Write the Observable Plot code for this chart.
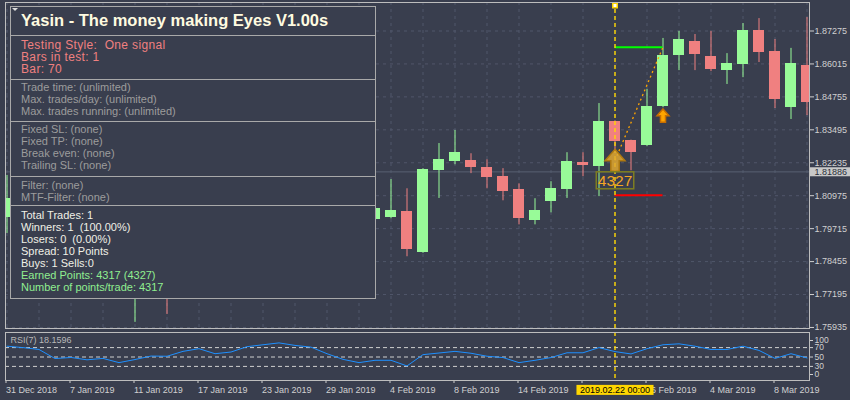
<!DOCTYPE html>
<html><head><meta charset="utf-8">
<script src="https://cdn.jsdelivr.net/npm/d3@7"></script>
<script src="https://cdn.jsdelivr.net/npm/@observablehq/plot@0.6"></script>
<style>
html,body{margin:0;padding:0;background:#393e4e;}
#wrap{position:relative;width:850px;height:400px;overflow:hidden;background:#393e4e;font-family:"Liberation Sans",Arial,sans-serif;}
#wrap svg{position:absolute;left:0;}
#panel{position:absolute;left:10px;top:6px;width:364px;height:291px;border:1px solid #a9a9a9;background:#393e4e;z-index:5;}
.sec{position:absolute;left:0;right:0;box-sizing:border-box;padding-left:10px;}
.sec.line{border-top:1px solid #a9a9a9;}
.sec div{white-space:pre;line-height:12px;}
#tri{position:absolute;left:1px;top:1px;width:0;height:0;border-left:3px solid transparent;border-right:3px solid transparent;border-top:3px solid #dcdcdc;}
</style></head><body><div id="wrap"><div id="panel"><div id="tri"></div></div></div>
<script>
// ---------- data ----------
const dates = ["2018-12-31","2019-01-02","2019-01-03","2019-01-04","2019-01-07","2019-01-08","2019-01-09","2019-01-10","2019-01-11","2019-01-14","2019-01-15","2019-01-16","2019-01-17","2019-01-18","2019-01-21","2019-01-22","2019-01-23","2019-01-24","2019-01-25","2019-01-28","2019-01-29","2019-01-30","2019-01-31","2019-02-01","2019-02-04","2019-02-05","2019-02-06","2019-02-07","2019-02-08","2019-02-11","2019-02-12","2019-02-13","2019-02-14","2019-02-15","2019-02-18","2019-02-19","2019-02-20","2019-02-21","2019-02-22","2019-02-25","2019-02-26","2019-02-27","2019-02-28","2019-03-01","2019-03-04","2019-03-05","2019-03-06","2019-03-07","2019-03-08","2019-03-11","2019-03-12"];
const opens  = [1.8014,1.8087,1.8030,1.7950,1.7900,1.7870,1.7810,1.7850,1.7780,1.7830,1.7860,1.7800,1.7900,1.7960,1.7920,1.7950,1.8020,1.8070,1.8130,1.8100,1.8080,1.8030,1.8000,1.8006,1.8013,1.8036,1.7879,1.8193,1.8228,1.8231,1.8205,1.8170,1.8121,1.8002,1.8075,1.8121,1.8224,1.8209,1.8381,1.8308,1.8289,1.8438,1.8634,1.8687,1.8630,1.8576,1.8599,1.8729,1.8649,1.8435,1.8595];
const highs  = [1.8175,1.8150,1.8070,1.8020,1.7960,1.7900,1.7880,1.7890,1.7880,1.7900,1.7890,1.7930,1.8000,1.7990,1.7980,1.8050,1.8100,1.8160,1.8180,1.8140,1.8110,1.8070,1.8080,1.8078,1.8159,1.8124,1.8201,1.8297,1.8347,1.8258,1.8235,1.8201,1.8143,1.8086,1.8151,1.8262,1.8262,1.8450,1.8384,1.8310,1.8504,1.8699,1.8726,1.8714,1.8726,1.8641,1.8756,1.8775,1.8695,1.8661,1.8779];
const lows   = [1.7953,1.7990,1.7750,1.7860,1.7830,1.7780,1.7770,1.7740,1.7613,1.7790,1.7643,1.7780,1.7880,1.7890,1.7900,1.7930,1.8000,1.8050,1.8060,1.8040,1.8000,1.7970,1.7960,1.7998,1.8009,1.7864,1.7877,1.8087,1.8216,1.8182,1.8124,1.8078,1.7986,1.7986,1.8032,1.8087,1.8170,1.8094,1.8270,1.8193,1.8285,1.8434,1.8576,1.8576,1.8572,1.8523,1.8549,1.8607,1.8431,1.8389,1.8404];
const closes = [1.8087,1.8030,1.7950,1.7900,1.7870,1.7810,1.7850,1.7780,1.7830,1.7860,1.7800,1.7900,1.7960,1.7920,1.7950,1.8020,1.8070,1.8130,1.8100,1.8080,1.8030,1.8000,1.8050,1.8048,1.8040,1.7891,1.8197,1.8235,1.8263,1.8205,1.8166,1.8113,1.8009,1.8040,1.8124,1.8228,1.8212,1.8381,1.8304,1.8262,1.8438,1.8634,1.8695,1.8637,1.8580,1.8603,1.8729,1.8645,1.8465,1.8603,1.8454];
const rsi7 = [73,70,66,46.7,49,44,47,38,44.6,52,51.6,62,67.7,57,60.6,72,76,80,74.7,71,57,45,38,43,43,31,55,58.5,62,58,51.6,48.8,38,43,48.8,59,59,70,61.5,56.5,67.7,76,78,73,66,66,73,64,47,57,48];
const priceTicks = [1.87275,1.86015,1.84755,1.83495,1.82235,1.80975,1.79715,1.78455,1.77195,1.75935];
const xTickDates = ["2018-12-31","2019-01-07","2019-01-11","2019-01-17","2019-01-23","2019-01-29","2019-02-04","2019-02-08","2019-02-14","2019-02-20","2019-02-26","2019-03-04","2019-03-08"];
const xTickLabels = ["31 Dec 2018","7 Jan 2019","11 Jan 2019","17 Jan 2019","23 Jan 2019","29 Jan 2019","4 Feb 2019","8 Feb 2019","14 Feb 2019","20 Feb 2019","26 Feb 2019","4 Mar 2019","8 Mar 2019"];
const rsiLevels = [30, 50, 70];
const rsiEdgeTop = [100], rsiEdgeBottom = [0];
const rsiTitle = "RSI(7) 18.1596";
const currentPrice = 1.81886;
const tradeEntryDate = "2019-02-22", tradeExitDate = "2019-02-27";
const tradeEntry = 1.82328, tradeTP = 1.86655, tradeSL = 1.80994, exitArrowPrice = 1.8404;
const tradePoints = [4327];
const panelTitle = "Yasin - The money making Eyes V1.00s";
const settingsLines = ["Testing Style:  One signal", "Bars in test: 1", "Bar: 70"];
const limitLines = ["Trade time: (unlimited)", "Max. trades/day: (unlimited)", "Max. trades running: (unlimited)"];
const stopLines = ["Fixed SL: (none)", "Fixed TP: (none)", "Break even: (none)", "Trailing SL: (none)"];
const filterLines = ["Filter: (none)", "MTF-Filter: (none)"];
const resultLines = ["Total Trades: 1", "Winners: 1  (100.00%)", "Losers: 0  (0.00%)", "Spread: 10 Points", "Buys: 1 Sells:0"];
const pointsLines = ["Earned Points: 4317 (4327)", "Number of points/trade: 4317"];

// ---------- derived ----------
const upColor = "#98fb98", downColor = "#f08080", gridColor = "#50566a";
const bars = dates.map((date, i) => ({i, date, open: opens[i], high: highs[i], low: lows[i], close: closes[i]}));
const upBars = bars.filter(d => d.close >= d.open), downBars = bars.filter(d => d.close < d.open);
const half = 0.34375;
const xDomain = [-0.09375, dates.length - 0.84375];
const entryIdx = dates.indexOf(tradeEntryDate), exitIdx = dates.indexOf(tradeExitDate);
const gridIdx = d3.range(0, dates.length, 2);
const xTickIdx = xTickDates.map(d => dates.indexOf(d));
const xLabel = new Map(xTickIdx.map((t, k) => [t, xTickLabels[k]]));
const dateTagText = dates[entryIdx].replaceAll("-", ".") + " 00:00";
const font = "'Liberation Sans', Arial, sans-serif";

const upArrow = {
  draw(ctx, size) {
    const r = Math.sqrt(size / Math.PI);
    const h = r * 1.1, sw = r * 0.42, hb = r * 0.05;
    ctx.moveTo(0, -h); ctx.lineTo(r, hb); ctx.lineTo(sw, hb); ctx.lineTo(sw, h);
    ctx.lineTo(-sw, h); ctx.lineTo(-sw, hb); ctx.lineTo(-r, hb); ctx.closePath();
  }
};

const mainPlot = Plot.plot({
  width: 850, height: 330,
  marginTop: 2, marginBottom: 2, marginLeft: 5, marginRight: 41,
  x: {domain: xDomain, axis: null},
  y: {domain: [1.758953, 1.883652], axis: null},
  style: {background: "transparent", fontFamily: font, fontSize: "9px", color: "#d0d0d0", overflow: "visible"},
  marks: [
    Plot.gridX(gridIdx, {stroke: gridColor, strokeOpacity: 1, strokeDasharray: "3,4"}),
    Plot.gridY(priceTicks, {stroke: gridColor, strokeOpacity: 1, strokeDasharray: "3,4"}),
    Plot.ruleY([currentPrice], {stroke: "#596073"}),
    Plot.ruleX(upBars, {x: "i", y1: "low", y2: "high", stroke: upColor, clip: true}),
    Plot.ruleX(downBars, {x: "i", y1: "low", y2: "high", stroke: downColor, clip: true}),
    Plot.rect(upBars, {x1: d => d.i - half, x2: d => d.i + half, y1: "open", y2: "close", fill: upColor, clip: true, shapeRendering: "crispEdges"}),
    Plot.rect(downBars, {x1: d => d.i - half, x2: d => d.i + half, y1: "open", y2: "close", fill: downColor, clip: true, shapeRendering: "crispEdges"}),
    Plot.ruleY([tradeTP], {x1: entryIdx, x2: exitIdx, stroke: "#00ff00", strokeWidth: 2}),
    Plot.ruleY([tradeSL], {x1: entryIdx, x2: exitIdx, stroke: "#ff0000", strokeWidth: 2}),
    Plot.link([0], {x1: entryIdx, y1: tradeEntry, x2: exitIdx, y2: tradeTP, stroke: "#ffa500", strokeDasharray: "2,3", strokeWidth: 1.3}),
    Plot.ruleX([entryIdx], {stroke: "#ffd700", strokeDasharray: "4,3", strokeWidth: 1.4}),
    Plot.dot([entryIdx], {x: d => d, frameAnchor: "top", dy: 3, symbol: "square", r: 2.5, fill: "#ffffff", stroke: "#ffd700"}),
    Plot.dot([0], {x: entryIdx, y: tradeEntry, r: 10, symbol: upArrow, fill: "#e0a830", fillOpacity: 0.85, stroke: "#b07a10"}),
    Plot.dot([0], {x: exitIdx, y: exitArrowPrice, r: 6, symbol: upArrow, fill: "#ffa500", stroke: "#c86e00"}),
    Plot.text(tradePoints, {x: entryIdx, y: tradeEntry, dy: 20.5, text: d => String(d), fill: "#f5a623", fontSize: 15.5}),
    Plot.axisY(priceTicks, {anchor: "right", tickSize: 4, tickPadding: 1, tickFormat: d => d.toFixed(5), label: null, color: "#d0d0d0"}),
    Plot.text([currentPrice], {y: d => d, frameAnchor: "right", dx: 5, textAnchor: "start", text: d => d.toFixed(5), fill: "#2a2e3a"}),
    Plot.frame({stroke: "#bdbdbd"})
  ]
});

const rsiPlot = Plot.plot({
  width: 850, height: 70,
  marginTop: 2, marginBottom: 20, marginLeft: 5, marginRight: 41,
  x: {domain: xDomain, axis: null},
  y: {domain: [0, 100], insetTop: 1, axis: null},
  style: {background: "transparent", fontFamily: font, fontSize: "9px", color: "#d0d0d0", overflow: "visible"},
  marks: [
    Plot.ruleY(rsiLevels, {stroke: "#cfcfcf", strokeDasharray: "4,3"}),
    Plot.line(rsi7, {x: (d, i) => i, y: d => d, stroke: "#1e90ff", strokeWidth: 1}),
    Plot.ruleX([entryIdx], {stroke: "#ffd700", strokeDasharray: "4,3", strokeWidth: 1.4}),
    Plot.text([rsiTitle], {frameAnchor: "top-left", lineAnchor: "top", dx: 5, dy: 4, text: d => d, fill: "#b8b8b8"}),
    Plot.axisX(xTickIdx, {anchor: "bottom", tickSize: 3, tickPadding: 3, textAnchor: "start", dx: -1, tickFormat: i => xLabel.get(i), label: null, color: "#d0d0d0"}),
    Plot.axisY(rsiLevels, {anchor: "right", tickSize: 3, tickPadding: 2, label: null, color: "#d0d0d0", fontSize: 8.5}),
    Plot.axisY(rsiEdgeTop, {anchor: "right", tickSize: 3, tickPadding: 2, dy: 7, label: null, color: "#d0d0d0", fontSize: 8.5}),
    Plot.axisY(rsiEdgeBottom, {anchor: "right", tickSize: 3, tickPadding: 2, dy: -6, label: null, color: "#d0d0d0", fontSize: 8.5}),
    Plot.text([entryIdx], {x: d => d, frameAnchor: "bottom", lineAnchor: "middle", dy: 9.5, text: () => dateTagText, fill: "#000000"}),
    Plot.frame({stroke: "#bdbdbd"})
  ]
});

const wrap = document.getElementById("wrap");
mainPlot.style.top = "0px";
rsiPlot.style.top = "330px";
wrap.insertBefore(rsiPlot, wrap.firstChild);
wrap.insertBefore(mainPlot, wrap.firstChild);

function addBox(svg, content, fill, stroke, padL, padR, padT, padB) {
  svg.querySelectorAll("text").forEach(t => {
    if (t.textContent !== content) return;
    const b = t.getBBox();
    const r = document.createElementNS("http://www.w3.org/2000/svg", "rect");
    r.setAttribute("x", b.x - padL);
    r.setAttribute("y", b.y - padT);
    r.setAttribute("width", b.width + padL + padR);
    r.setAttribute("height", b.height + padT + padB);
    r.setAttribute("fill", fill);
    if (stroke) { r.setAttribute("stroke", stroke); r.setAttribute("stroke-width", 1.5); }
    const tr = t.getAttribute("transform");
    if (tr) r.setAttribute("transform", tr);
    t.parentNode.insertBefore(r, t);
  });
}
addBox(mainPlot, currentPrice.toFixed(5), "#c8c8c8", null, 5, 5, -0.5, -0.5);
addBox(mainPlot, String(tradePoints[0]), "none", "#7d7d22", 1.5, 1.5, 0, 0);
addBox(rsiPlot, dateTagText, "#ffd700", null, 3.5, 3.5, 0, 0);

// ---------- info panel ----------
const panel = document.getElementById("panel");
const sections = [
  {top: 0, h: 28, lines: [panelTitle], color: "#fffbe0", size: 16.5, bold: true, pad: 0, lh: 27},
  {top: 28, h: 44, lines: settingsLines, color: "#f08080", size: 12, pad: 3, line: true, ls: 0.35},
  {top: 72, h: 42, lines: limitLines, color: "#9c9c9c", size: 11, pad: 1, line: true},
  {top: 114, h: 55, lines: stopLines, color: "#9c9c9c", size: 11, pad: 1, line: true},
  {top: 169, h: 29, lines: filterLines, color: "#9c9c9c", size: 11, pad: 2, line: true},
  {top: 198, h: 93, lines: resultLines.map(t => [t, "#f0f0e6"]).concat(pointsLines.map(t => [t, "#90ee90"])), size: 11, pad: 3, line: true}
];
sections.forEach(s => {
  const d = document.createElement("div");
  d.className = "sec" + (s.line ? " line" : "");
  d.style.top = s.top + "px";
  d.style.height = s.h + "px";
  d.style.paddingTop = s.pad + "px";
  s.lines.forEach(l => {
    const [txt, col] = Array.isArray(l) ? l : [l, s.color];
    const e = document.createElement("div");
    e.textContent = txt;
    e.style.color = col;
    e.style.fontSize = s.size + "px";
    if (s.ls) e.style.letterSpacing = s.ls + "px";
    if (s.bold) e.style.fontWeight = "bold";
    if (s.lh) e.style.lineHeight = s.lh + "px";
    d.appendChild(e);
  });
  panel.appendChild(d);
});
</script></body></html>
